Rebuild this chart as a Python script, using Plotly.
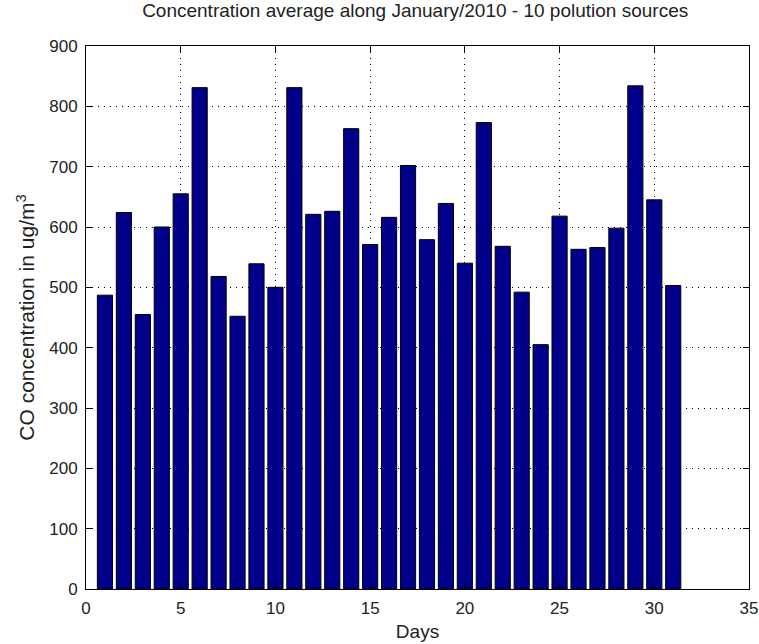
import plotly.graph_objects as go

days = list(range(1, 32))
co_values = [487, 624, 455, 600, 655, 831, 518, 452, 539, 500,
             831, 621, 626, 763, 571, 616, 702, 579, 639, 540,
             773, 568, 492, 405, 618, 563, 566, 598, 834, 645, 503]
x_ticks = [0, 5, 10, 15, 20, 25, 30, 35]
y_ticks = [0, 100, 200, 300, 400, 500, 600, 700, 800, 900]

title_text = "Concentration average along January/2010 - 10 polution sources"
x_title = "Days"
y_title = "CO concentration in ug/m<sup>3</sup>"

FONT = "Liberation Sans, Arial, sans-serif"

fig = go.Figure(go.Bar(
    x=days, y=co_values, width=0.8,
    marker=dict(color="#00008b", line=dict(color="black", width=1)),
))

axis_common = dict(
    showline=True, linecolor="black", linewidth=1, mirror="ticks",
    ticks="inside", ticklen=6, tickcolor="black",
    showgrid=True, gridcolor="black", gridwidth=1, griddash="1px,5px",
    zeroline=False, automargin=False,
    tickfont=dict(family=FONT, size=17, color="#222"),
)

fig.update_layout(
    width=759, height=644,
    margin=dict(l=86, r=10, t=46, b=55),
    paper_bgcolor="white", plot_bgcolor="white",
    showlegend=False,
    title=dict(text=title_text, x=0.547, xanchor="center", y=0.994, yanchor="top",
               pad=dict(t=0, b=0, l=0, r=0),
               font=dict(family=FONT, size=19, color="#222")),
    xaxis=dict(range=[0, 35], tickvals=x_ticks, ticklabelstandoff=4,
               title=dict(text=x_title, font=dict(family=FONT, size=19, color="#222"), standoff=7),
               **axis_common),
    yaxis=dict(range=[0, 900], tickvals=y_ticks, ticklabelstandoff=4,
               title=dict(text=y_title, font=dict(family=FONT, size=21, color="#222"), standoff=8),
               **axis_common),
)

fig.write_html(
    "out.html",
    config={"displayModeBar": False},
    post_script="document.body.style.margin='0';document.body.style.overflow='hidden';",
)
